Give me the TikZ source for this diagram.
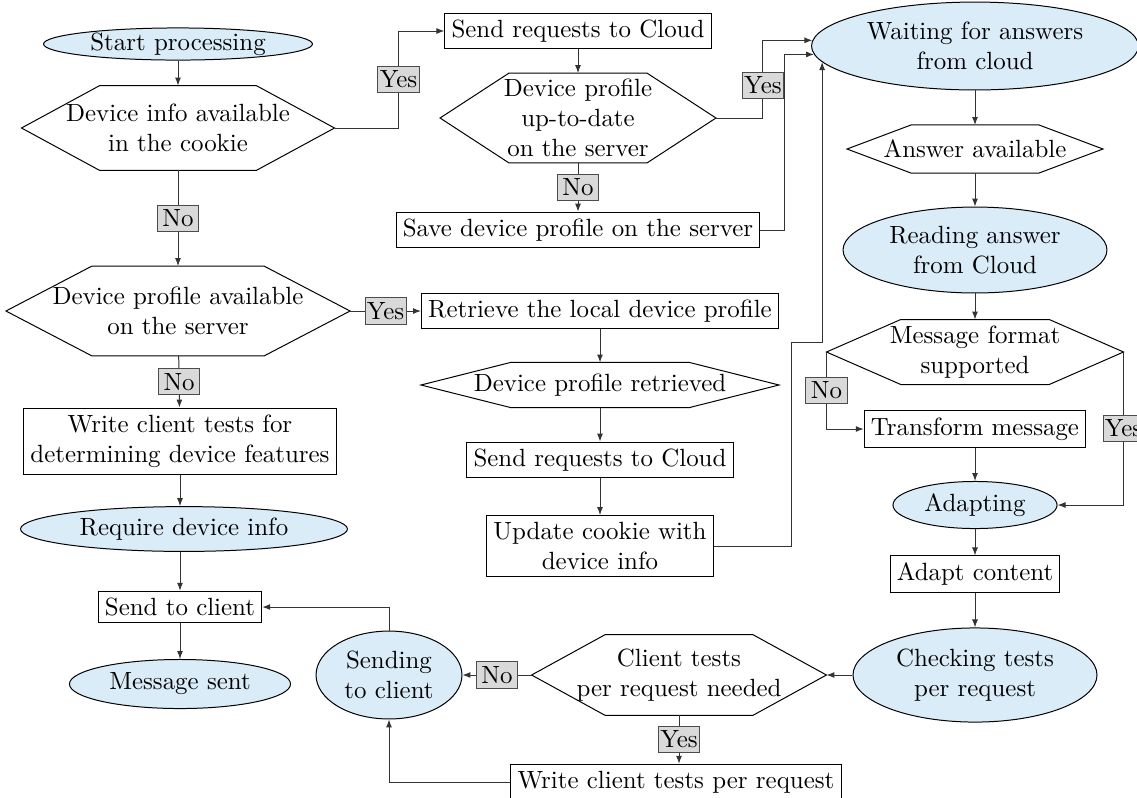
\documentclass[tikz,border=0pt]{standalone}
\usepackage{amsmath, amssymb}
\usetikzlibrary{calc, shapes.geometric, arrows.meta}

\definecolor{lightsky}{RGB}{218,236,248}

\tikzset{
  state/.style={ellipse, draw=black, fill=lightsky, inner sep=0pt, align=center},
  process/.style={rectangle, draw=black, inner sep=2.7pt, align=center},
  decision/.style={rectangle, inner sep=0pt, align=center,
    append after command={\pgfextra{\draw[-, black]
      (\tikzlastnode.west)
      -- ($(\tikzlastnode.north west)!0.25!(\tikzlastnode.north east)$)
      -- ($(\tikzlastnode.north west)!0.75!(\tikzlastnode.north east)$)
      -- (\tikzlastnode.east)
      -- ($(\tikzlastnode.south west)!0.75!(\tikzlastnode.south east)$)
      -- ($(\tikzlastnode.south west)!0.25!(\tikzlastnode.south east)$)
      -- cycle;}}},
  branch/.style={rectangle, draw=black!70, fill=black!15, inner sep=0.5pt,
    minimum width=16.5pt, minimum height=10.5pt},
  flow/.style={->, draw=black!80}
}

\begin{document}
\begin{tikzpicture}
            [>={Latex[length=3.2pt, width=2.4pt]}, x=0.4016pt, y=-0.4016pt, thin]
            \useasboundingbox (0,0) rectangle (1137,797);
            \clip (0,0) rectangle (1137,797);

            % left column
            \node[state, minimum width=108pt, minimum height=12.9pt] (start) at (178, 44) {Start processing};
            \node[decision, minimum width=125.3pt, minimum height=33.7pt] (cookie) at (178, 128) {Device info available\\in the cookie};
            \node[decision, minimum width=137.8pt, minimum height=35.7pt] (profile) at (178, 311) {Device profile available\\on the server};
            \node[process] (clienttests) at (180, 441) {Write client tests for\\determining device features};
            \node[state, minimum width=131.3pt, minimum height=18pt] (require) at (184, 529) {Require device info};
            \node[process] (sendclient) at (180, 607) {Send to client};
            \node[state, minimum width=88.8pt, minimum height=19.7pt] (sent) at (180, 684) {Message sent};

            % middle column
            \node[process] (cloud1) at (578, 31) {Send requests to Cloud};
            \node[decision, minimum width=110.4pt, minimum height=35.7pt] (uptodate) at (578, 118) {Device profile\\up-to-date\\on the server};
            \node[process] (save) at (578, 230) {Save device profile on the server};
            \node[process] (retrieve) at (600, 311) {Retrieve the local device profile};
            \node[decision, minimum width=143.4pt, minimum height=17.7pt] (retrieved) at (600, 385) {Device profile retrieved};
            \node[process] (cloud2) at (600, 460) {Send requests to Cloud};
            \node[process] (update) at (600, 546) {Update cookie with\\device info};

            % right column
            \node[state, minimum width=131.3pt, minimum height=35.3pt] (waiting) at (975, 46) {Waiting for answers\\from cloud};
            \node[decision, minimum width=102.4pt, minimum height=18.9pt] (available) at (975, 149) {Answer available};
            \node[state, minimum width=106pt, minimum height=34.5pt] (reading) at (975, 250) {Reading answer\\from Cloud};
            \node[decision, minimum width=118.9pt, minimum height=25.7pt] (format) at (975, 352) {Message format\\supported};
            \node[process] (transform) at (975, 429) {Transform message};
            \node[state, minimum width=65.9pt, minimum height=18.9pt] (adapting) at (975, 505) {Adapting};
            \node[process] (adapt) at (975, 574) {Adapt content};
            \node[state, minimum width=98pt, minimum height=37.8pt] (checking) at (975, 675) {Checking tests\\per request};

            % bottom row
            \node[decision, minimum width=118pt, minimum height=32.1pt] (pertests) at (679, 675) {Client tests\\per request needed};
            \node[process] (writetests) at (676, 782) {Write client tests per request};
            \node[state, minimum width=58.6pt, minimum height=35.3pt] (sending) at (389, 675) {Sending\\to client};

            \draw[flow] (start) -- (cookie);
            \draw[flow] (cookie.east) -- ++(64,0) |- node[branch, pos=0.25] (y1) {Yes} (cloud1.west);
            \draw[flow] (cookie) -- node[branch] (n1) {No} (profile);
            \draw[flow] (cloud1) -- (uptodate);
            \draw[flow] (uptodate.east) -- ++(47,0) |- node[branch, pos=0.21] (y2) {Yes} (waiting.178);
            \draw[flow] (uptodate) -- node[branch] (n2) {No} (save);
            \draw[flow] (save.east) -- ++(24,0) |- (waiting.183);
            \draw[flow] (profile) -- node[branch] (y3) {Yes} (retrieve);
            \draw[flow] (profile) -- node[branch] (n3) {No} (clienttests);
            \draw[flow] (clienttests.south) -- (clienttests.south |- require.north);
            \draw[flow] (require.south -| sendclient.north) -- (sendclient.north);
            \draw[flow] (sendclient) -- (sent);
            \draw[flow] (retrieve) -- (retrieved);
            \draw[flow] (retrieved) -- (cloud2);
            \draw[flow] (cloud2) -- (update);
            \draw[flow] (update.east) -- ++(78,0) |- (waiting.186 |- 0,342) -- (waiting.186);
            \draw[flow] (waiting) -- (available);
            \draw[flow] (available) -- (reading);
            \draw[flow] (reading) -- (format);
            \draw[flow] (format.west) |- node[branch, pos=0.25] (n4) {No} (transform.west);
            \draw[flow] (format.east) |- node[branch, pos=0.25] (y4) {Yes} (adapting.east);
            \draw[flow] (transform) -- (adapting);
            \draw[flow] (adapting) -- (adapt);
            \draw[flow] (adapt) -- (checking);
            \draw[flow] (checking) -- (pertests);
            \draw[flow] (pertests) -- node[branch] (n5) {No} (sending);
            \draw[flow] (pertests.south) -- node[branch] (y5) {Yes} (pertests.south |- writetests.north);
            \draw[flow] (writetests.west) -| (sending.south);
            \draw[flow] (sending.north) |- (sendclient.east);
        \end{tikzpicture}
\end{document}
